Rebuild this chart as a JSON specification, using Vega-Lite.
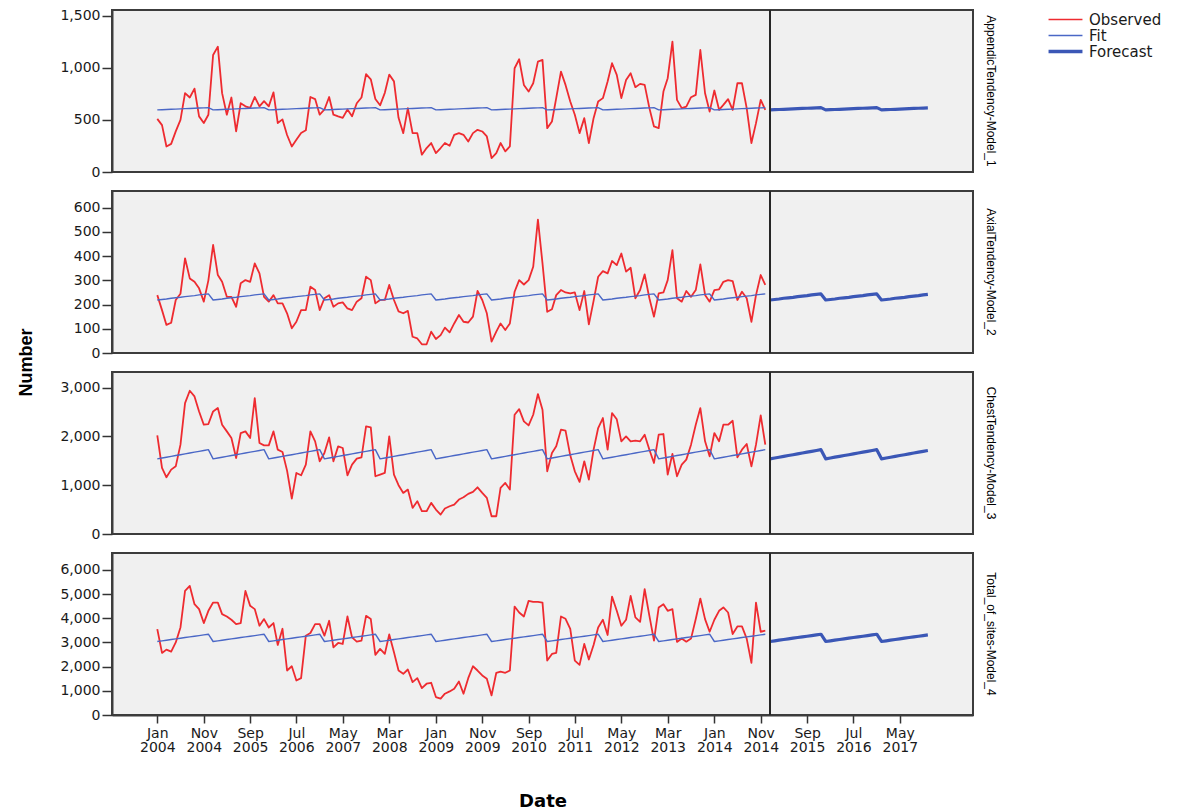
{
  "$schema": "https://vega.github.io/schema/vega-lite/v6.json",
  "background": "white",
  "padding": {"left": 16, "top": 7, "right": 2, "bottom": 0},
  "bounds": "flush",
  "config": {
    "view": {"fill": "#f0f0f0", "stroke": "#3c3c3c", "strokeWidth": 2},
    "concat": {"spacing": 19},
    "axis": {
      "labelFont": "DejaVu Sans", "labelFontSize": 14, "labelColor": "#1a1a1a",
      "tickColor": "#333333", "tickWidth": 1.5, "domainColor": "#3c3c3c", "domainWidth": 2,
      "grid": false, "titleColor": "#000000", "titleFont": "DejaVu Sans", "titleFontWeight": "bold"
    },
    "legend": {
      "labelFont": "DejaVu Sans", "labelFontSize": 15, "labelColor": "#1a1a1a",
      "symbolType": "stroke", "symbolSize": 1150, "rowPadding": -18, "labelOffset": 16, "padding": 0
    }
  },
  "resolve": {"scale": {"y": "independent", "color": "shared"}},
  "datasets": {
    "observed": [
      {"d":"2004-01","A":510,"X":239,"C":2021,"T":3554},{"d":"2004-02","A":450,"X":177,"C":1354,"T":2567},{"d":"2004-03","A":245,"X":116,"C":1162,"T":2703},{"d":"2004-04","A":270,"X":125,"C":1319,"T":2621},{"d":"2004-05","A":390,"X":219,"C":1387,"T":3000},{"d":"2004-06","A":500,"X":245,"C":1831,"T":3620},{"d":"2004-07","A":757,"X":391,"C":2683,"T":5131},{"d":"2004-08","A":715,"X":308,"C":2935,"T":5337},{"d":"2004-09","A":800,"X":294,"C":2819,"T":4584},{"d":"2004-10","A":534,"X":267,"C":2512,"T":4379},{"d":"2004-11","A":470,"X":212,"C":2240,"T":3802},{"d":"2004-12","A":550,"X":300,"C":2254,"T":4309},
      {"d":"2005-01","A":1123,"X":446,"C":2512,"T":4650},{"d":"2005-02","A":1203,"X":322,"C":2581,"T":4650},{"d":"2005-03","A":757,"X":294,"C":2240,"T":4173},{"d":"2005-04","A":550,"X":232,"C":2103,"T":4074},{"d":"2005-05","A":715,"X":232,"C":1967,"T":3938},{"d":"2005-06","A":390,"X":191,"C":1558,"T":3761},{"d":"2005-07","A":660,"X":288,"C":2069,"T":3802},{"d":"2005-08","A":630,"X":301,"C":2103,"T":5131},{"d":"2005-09","A":615,"X":294,"C":1967,"T":4514},{"d":"2005-10","A":720,"X":370,"C":2786,"T":4379},{"d":"2005-11","A":630,"X":329,"C":1865,"T":3691},{"d":"2005-12","A":680,"X":232,"C":1817,"T":3967},
      {"d":"2006-01","A":630,"X":212,"C":1817,"T":3620},{"d":"2006-02","A":765,"X":239,"C":2103,"T":3802},{"d":"2006-03","A":470,"X":205,"C":1728,"T":2897},{"d":"2006-04","A":505,"X":205,"C":1681,"T":3566},{"d":"2006-05","A":355,"X":164,"C":1299,"T":1840},{"d":"2006-06","A":245,"X":102,"C":726,"T":2016},{"d":"2006-07","A":310,"X":129,"C":1251,"T":1428},{"d":"2006-08","A":375,"X":177,"C":1203,"T":1523},{"d":"2006-09","A":400,"X":177,"C":1422,"T":3280},{"d":"2006-10","A":720,"X":274,"C":2103,"T":3391},{"d":"2006-11","A":700,"X":260,"C":1899,"T":3761},{"d":"2006-12","A":550,"X":177,"C":1490,"T":3761},
      {"d":"2007-01","A":600,"X":226,"C":1661,"T":3280},{"d":"2007-02","A":720,"X":239,"C":1980,"T":3897},{"d":"2007-03","A":550,"X":191,"C":1490,"T":2798},{"d":"2007-04","A":534,"X":205,"C":1796,"T":2979},{"d":"2007-05","A":520,"X":209,"C":1763,"T":2938},{"d":"2007-06","A":600,"X":184,"C":1203,"T":4074},{"d":"2007-07","A":534,"X":177,"C":1422,"T":3210},{"d":"2007-08","A":660,"X":212,"C":1544,"T":3033},{"d":"2007-09","A":715,"X":226,"C":1571,"T":3074},{"d":"2007-10","A":940,"X":315,"C":2205,"T":4103},{"d":"2007-11","A":890,"X":301,"C":2185,"T":3967},{"d":"2007-12","A":700,"X":205,"C":1183,"T":2486},
      {"d":"2008-01","A":640,"X":219,"C":1217,"T":2733},{"d":"2008-02","A":760,"X":219,"C":1251,"T":2527},{"d":"2008-03","A":935,"X":281,"C":2001,"T":3330},{"d":"2008-04","A":870,"X":219,"C":1217,"T":2593},{"d":"2008-05","A":520,"X":172,"C":1000,"T":1840},{"d":"2008-06","A":373,"X":164,"C":842,"T":1704},{"d":"2008-07","A":613,"X":174,"C":910,"T":1881},{"d":"2008-08","A":373,"X":67,"C":535,"T":1358},{"d":"2008-09","A":373,"X":60,"C":672,"T":1523},{"d":"2008-10","A":166,"X":36,"C":467,"T":1111},{"d":"2008-11","A":230,"X":36,"C":467,"T":1293},{"d":"2008-12","A":278,"X":88,"C":638,"T":1333},
      {"d":"2009-01","A":182,"X":58,"C":501,"T":741},{"d":"2009-02","A":230,"X":74,"C":399,"T":675},{"d":"2009-03","A":278,"X":105,"C":522,"T":881},{"d":"2009-04","A":252,"X":85,"C":569,"T":975},{"d":"2009-05","A":357,"X":122,"C":603,"T":1086},{"d":"2009-06","A":373,"X":157,"C":706,"T":1387},{"d":"2009-07","A":357,"X":129,"C":753,"T":881},{"d":"2009-08","A":293,"X":126,"C":822,"T":1523},{"d":"2009-09","A":373,"X":150,"C":863,"T":2016},{"d":"2009-10","A":405,"X":256,"C":957,"T":1840},{"d":"2009-11","A":389,"X":219,"C":842,"T":1634},{"d":"2009-12","A":341,"X":164,"C":740,"T":1498},
      {"d":"2010-01","A":134,"X":47,"C":364,"T":811},{"d":"2010-02","A":182,"X":88,"C":364,"T":1745},{"d":"2010-03","A":278,"X":122,"C":944,"T":1798},{"d":"2010-04","A":198,"X":95,"C":1046,"T":1745},{"d":"2010-05","A":245,"X":122,"C":910,"T":1840},{"d":"2010-06","A":996,"X":253,"C":2444,"T":4486},{"d":"2010-07","A":1082,"X":301,"C":2560,"T":4239},{"d":"2010-08","A":836,"X":283,"C":2307,"T":4074},{"d":"2010-09","A":772,"X":301,"C":2225,"T":4720},{"d":"2010-10","A":852,"X":356,"C":2444,"T":4677},{"d":"2010-11","A":1060,"X":551,"C":2868,"T":4677},{"d":"2010-12","A":1076,"X":370,"C":2546,"T":4650},
      {"d":"2011-01","A":421,"X":170,"C":1285,"T":2251},{"d":"2011-02","A":485,"X":181,"C":1661,"T":2527},{"d":"2011-03","A":709,"X":239,"C":1796,"T":2566},{"d":"2011-04","A":964,"X":260,"C":2137,"T":4074},{"d":"2011-05","A":836,"X":250,"C":2117,"T":3980},{"d":"2011-06","A":676,"X":246,"C":1612,"T":3566},{"d":"2011-07","A":549,"X":250,"C":1285,"T":2251},{"d":"2011-08","A":373,"X":177,"C":1067,"T":2074},{"d":"2011-09","A":517,"X":256,"C":1490,"T":2938},{"d":"2011-10","A":278,"X":118,"C":1115,"T":2292},{"d":"2011-11","A":517,"X":215,"C":1728,"T":2897},{"d":"2011-12","A":676,"X":315,"C":2172,"T":3620},
      {"d":"2012-01","A":709,"X":338,"C":2377,"T":3938},{"d":"2012-02","A":868,"X":329,"C":1728,"T":3310},{"d":"2012-03","A":1044,"X":380,"C":2479,"T":4897},{"d":"2012-04","A":932,"X":363,"C":2350,"T":4309},{"d":"2012-05","A":709,"X":411,"C":1899,"T":3691},{"d":"2012-06","A":884,"X":336,"C":2001,"T":3938},{"d":"2012-07","A":948,"X":352,"C":1899,"T":4925},{"d":"2012-08","A":814,"X":226,"C":1912,"T":4036},{"d":"2012-09","A":846,"X":260,"C":1899,"T":3852},{"d":"2012-10","A":836,"X":325,"C":2035,"T":5202},{"d":"2012-11","A":613,"X":226,"C":1728,"T":4103},{"d":"2012-12","A":437,"X":150,"C":1456,"T":3074},
      {"d":"2013-01","A":421,"X":246,"C":2035,"T":4447},{"d":"2013-02","A":772,"X":250,"C":2049,"T":4584},{"d":"2013-03","A":900,"X":301,"C":1217,"T":4309},{"d":"2013-04","A":1251,"X":425,"C":1640,"T":4379},{"d":"2013-05","A":692,"X":226,"C":1183,"T":3022},{"d":"2013-06","A":613,"X":212,"C":1422,"T":3160},{"d":"2013-07","A":628,"X":256,"C":1524,"T":3033},{"d":"2013-08","A":718,"X":232,"C":1831,"T":3160},{"d":"2013-09","A":740,"X":260,"C":2240,"T":3967},{"d":"2013-10","A":1171,"X":366,"C":2581,"T":4816},{"d":"2013-11","A":756,"X":240,"C":1899,"T":3967},{"d":"2013-12","A":580,"X":212,"C":1592,"T":3443},
      {"d":"2014-01","A":782,"X":260,"C":2069,"T":3938},{"d":"2014-02","A":597,"X":263,"C":1899,"T":4309},{"d":"2014-03","A":644,"X":294,"C":2240,"T":4447},{"d":"2014-04","A":699,"X":301,"C":2240,"T":4239},{"d":"2014-05","A":597,"X":297,"C":2321,"T":3350},{"d":"2014-06","A":852,"X":219,"C":1571,"T":3664},{"d":"2014-07","A":852,"X":253,"C":1728,"T":3664},{"d":"2014-08","A":613,"X":226,"C":1844,"T":3160},{"d":"2014-09","A":278,"X":129,"C":1387,"T":2156},{"d":"2014-10","A":469,"X":239,"C":1831,"T":4650},{"d":"2014-11","A":692,"X":322,"C":2430,"T":3443},{"d":"2014-12","A":597,"X":281,"C":1831,"T":3485}
    ],
    "fit": [
      {"d":"2004-01","A":596,"X":219,"C":1540,"T":3040},{"d":"2004-02","A":598,"X":221,"C":1557,"T":3067},{"d":"2004-03","A":600,"X":223,"C":1574,"T":3094},{"d":"2004-04","A":602,"X":226,"C":1591,"T":3122},{"d":"2004-05","A":604,"X":228,"C":1608,"T":3149},{"d":"2004-06","A":606,"X":230,"C":1625,"T":3176},{"d":"2004-07","A":608,"X":233,"C":1643,"T":3204},{"d":"2004-08","A":610,"X":235,"C":1660,"T":3231},{"d":"2004-09","A":612,"X":237,"C":1677,"T":3258},{"d":"2004-10","A":614,"X":240,"C":1694,"T":3285},{"d":"2004-11","A":616,"X":242,"C":1711,"T":3313},{"d":"2004-12","A":618,"X":244,"C":1728,"T":3340},
      {"d":"2005-01","A":596,"X":219,"C":1540,"T":3040},{"d":"2005-02","A":598,"X":221,"C":1557,"T":3067},{"d":"2005-03","A":600,"X":223,"C":1574,"T":3094},{"d":"2005-04","A":602,"X":226,"C":1591,"T":3122},{"d":"2005-05","A":604,"X":228,"C":1608,"T":3149},{"d":"2005-06","A":606,"X":230,"C":1625,"T":3176},{"d":"2005-07","A":608,"X":233,"C":1643,"T":3204},{"d":"2005-08","A":610,"X":235,"C":1660,"T":3231},{"d":"2005-09","A":612,"X":237,"C":1677,"T":3258},{"d":"2005-10","A":614,"X":240,"C":1694,"T":3285},{"d":"2005-11","A":616,"X":242,"C":1711,"T":3313},{"d":"2005-12","A":618,"X":244,"C":1728,"T":3340},
      {"d":"2006-01","A":596,"X":219,"C":1540,"T":3040},{"d":"2006-02","A":598,"X":221,"C":1557,"T":3067},{"d":"2006-03","A":600,"X":223,"C":1574,"T":3094},{"d":"2006-04","A":602,"X":226,"C":1591,"T":3122},{"d":"2006-05","A":604,"X":228,"C":1608,"T":3149},{"d":"2006-06","A":606,"X":230,"C":1625,"T":3176},{"d":"2006-07","A":608,"X":233,"C":1643,"T":3204},{"d":"2006-08","A":610,"X":235,"C":1660,"T":3231},{"d":"2006-09","A":612,"X":237,"C":1677,"T":3258},{"d":"2006-10","A":614,"X":240,"C":1694,"T":3285},{"d":"2006-11","A":616,"X":242,"C":1711,"T":3313},{"d":"2006-12","A":618,"X":244,"C":1728,"T":3340},
      {"d":"2007-01","A":596,"X":219,"C":1540,"T":3040},{"d":"2007-02","A":598,"X":221,"C":1557,"T":3067},{"d":"2007-03","A":600,"X":223,"C":1574,"T":3094},{"d":"2007-04","A":602,"X":226,"C":1591,"T":3122},{"d":"2007-05","A":604,"X":228,"C":1608,"T":3149},{"d":"2007-06","A":606,"X":230,"C":1625,"T":3176},{"d":"2007-07","A":608,"X":233,"C":1643,"T":3204},{"d":"2007-08","A":610,"X":235,"C":1660,"T":3231},{"d":"2007-09","A":612,"X":237,"C":1677,"T":3258},{"d":"2007-10","A":614,"X":240,"C":1694,"T":3285},{"d":"2007-11","A":616,"X":242,"C":1711,"T":3313},{"d":"2007-12","A":618,"X":244,"C":1728,"T":3340},
      {"d":"2008-01","A":596,"X":219,"C":1540,"T":3040},{"d":"2008-02","A":598,"X":221,"C":1557,"T":3067},{"d":"2008-03","A":600,"X":223,"C":1574,"T":3094},{"d":"2008-04","A":602,"X":226,"C":1591,"T":3122},{"d":"2008-05","A":604,"X":228,"C":1608,"T":3149},{"d":"2008-06","A":606,"X":230,"C":1625,"T":3176},{"d":"2008-07","A":608,"X":233,"C":1643,"T":3204},{"d":"2008-08","A":610,"X":235,"C":1660,"T":3231},{"d":"2008-09","A":612,"X":237,"C":1677,"T":3258},{"d":"2008-10","A":614,"X":240,"C":1694,"T":3285},{"d":"2008-11","A":616,"X":242,"C":1711,"T":3313},{"d":"2008-12","A":618,"X":244,"C":1728,"T":3340},
      {"d":"2009-01","A":596,"X":219,"C":1540,"T":3040},{"d":"2009-02","A":598,"X":221,"C":1557,"T":3067},{"d":"2009-03","A":600,"X":223,"C":1574,"T":3094},{"d":"2009-04","A":602,"X":226,"C":1591,"T":3122},{"d":"2009-05","A":604,"X":228,"C":1608,"T":3149},{"d":"2009-06","A":606,"X":230,"C":1625,"T":3176},{"d":"2009-07","A":608,"X":233,"C":1643,"T":3204},{"d":"2009-08","A":610,"X":235,"C":1660,"T":3231},{"d":"2009-09","A":612,"X":237,"C":1677,"T":3258},{"d":"2009-10","A":614,"X":240,"C":1694,"T":3285},{"d":"2009-11","A":616,"X":242,"C":1711,"T":3313},{"d":"2009-12","A":618,"X":244,"C":1728,"T":3340},
      {"d":"2010-01","A":596,"X":219,"C":1540,"T":3040},{"d":"2010-02","A":598,"X":221,"C":1557,"T":3067},{"d":"2010-03","A":600,"X":223,"C":1574,"T":3094},{"d":"2010-04","A":602,"X":226,"C":1591,"T":3122},{"d":"2010-05","A":604,"X":228,"C":1608,"T":3149},{"d":"2010-06","A":606,"X":230,"C":1625,"T":3176},{"d":"2010-07","A":608,"X":233,"C":1643,"T":3204},{"d":"2010-08","A":610,"X":235,"C":1660,"T":3231},{"d":"2010-09","A":612,"X":237,"C":1677,"T":3258},{"d":"2010-10","A":614,"X":240,"C":1694,"T":3285},{"d":"2010-11","A":616,"X":242,"C":1711,"T":3313},{"d":"2010-12","A":618,"X":244,"C":1728,"T":3340},
      {"d":"2011-01","A":596,"X":219,"C":1540,"T":3040},{"d":"2011-02","A":598,"X":221,"C":1557,"T":3067},{"d":"2011-03","A":600,"X":223,"C":1574,"T":3094},{"d":"2011-04","A":602,"X":226,"C":1591,"T":3122},{"d":"2011-05","A":604,"X":228,"C":1608,"T":3149},{"d":"2011-06","A":606,"X":230,"C":1625,"T":3176},{"d":"2011-07","A":608,"X":233,"C":1643,"T":3204},{"d":"2011-08","A":610,"X":235,"C":1660,"T":3231},{"d":"2011-09","A":612,"X":237,"C":1677,"T":3258},{"d":"2011-10","A":614,"X":240,"C":1694,"T":3285},{"d":"2011-11","A":616,"X":242,"C":1711,"T":3313},{"d":"2011-12","A":618,"X":244,"C":1728,"T":3340},
      {"d":"2012-01","A":596,"X":219,"C":1540,"T":3040},{"d":"2012-02","A":598,"X":221,"C":1557,"T":3067},{"d":"2012-03","A":600,"X":223,"C":1574,"T":3094},{"d":"2012-04","A":602,"X":226,"C":1591,"T":3122},{"d":"2012-05","A":604,"X":228,"C":1608,"T":3149},{"d":"2012-06","A":606,"X":230,"C":1625,"T":3176},{"d":"2012-07","A":608,"X":233,"C":1643,"T":3204},{"d":"2012-08","A":610,"X":235,"C":1660,"T":3231},{"d":"2012-09","A":612,"X":237,"C":1677,"T":3258},{"d":"2012-10","A":614,"X":240,"C":1694,"T":3285},{"d":"2012-11","A":616,"X":242,"C":1711,"T":3313},{"d":"2012-12","A":618,"X":244,"C":1728,"T":3340},
      {"d":"2013-01","A":596,"X":219,"C":1540,"T":3040},{"d":"2013-02","A":598,"X":221,"C":1557,"T":3067},{"d":"2013-03","A":600,"X":223,"C":1574,"T":3094},{"d":"2013-04","A":602,"X":226,"C":1591,"T":3122},{"d":"2013-05","A":604,"X":228,"C":1608,"T":3149},{"d":"2013-06","A":606,"X":230,"C":1625,"T":3176},{"d":"2013-07","A":608,"X":233,"C":1643,"T":3204},{"d":"2013-08","A":610,"X":235,"C":1660,"T":3231},{"d":"2013-09","A":612,"X":237,"C":1677,"T":3258},{"d":"2013-10","A":614,"X":240,"C":1694,"T":3285},{"d":"2013-11","A":616,"X":242,"C":1711,"T":3313},{"d":"2013-12","A":618,"X":244,"C":1728,"T":3340},
      {"d":"2014-01","A":596,"X":219,"C":1540,"T":3040},{"d":"2014-02","A":598,"X":221,"C":1557,"T":3067},{"d":"2014-03","A":600,"X":223,"C":1574,"T":3094},{"d":"2014-04","A":602,"X":226,"C":1591,"T":3122},{"d":"2014-05","A":604,"X":228,"C":1608,"T":3149},{"d":"2014-06","A":606,"X":230,"C":1625,"T":3176},{"d":"2014-07","A":608,"X":233,"C":1643,"T":3204},{"d":"2014-08","A":610,"X":235,"C":1660,"T":3231},{"d":"2014-09","A":612,"X":237,"C":1677,"T":3258},{"d":"2014-10","A":614,"X":240,"C":1694,"T":3285},{"d":"2014-11","A":616,"X":242,"C":1711,"T":3313},{"d":"2014-12","A":618,"X":244,"C":1728,"T":3340}
    ],
    "forecast": [
      {"d":"2015-01","A":596,"X":219,"C":1540,"T":3040},{"d":"2015-02","A":598,"X":221,"C":1557,"T":3067},{"d":"2015-03","A":600,"X":223,"C":1574,"T":3094},{"d":"2015-04","A":602,"X":226,"C":1591,"T":3122},{"d":"2015-05","A":604,"X":228,"C":1608,"T":3149},{"d":"2015-06","A":606,"X":230,"C":1625,"T":3176},{"d":"2015-07","A":608,"X":233,"C":1643,"T":3204},{"d":"2015-08","A":610,"X":235,"C":1660,"T":3231},{"d":"2015-09","A":612,"X":237,"C":1677,"T":3258},{"d":"2015-10","A":614,"X":240,"C":1694,"T":3285},{"d":"2015-11","A":616,"X":242,"C":1711,"T":3313},{"d":"2015-12","A":618,"X":244,"C":1728,"T":3340},
      {"d":"2016-01","A":596,"X":219,"C":1540,"T":3040},{"d":"2016-02","A":598,"X":221,"C":1557,"T":3067},{"d":"2016-03","A":600,"X":223,"C":1574,"T":3094},{"d":"2016-04","A":602,"X":226,"C":1591,"T":3122},{"d":"2016-05","A":604,"X":228,"C":1608,"T":3149},{"d":"2016-06","A":606,"X":230,"C":1625,"T":3176},{"d":"2016-07","A":608,"X":233,"C":1643,"T":3204},{"d":"2016-08","A":610,"X":235,"C":1660,"T":3231},{"d":"2016-09","A":612,"X":237,"C":1677,"T":3258},{"d":"2016-10","A":614,"X":240,"C":1694,"T":3285},{"d":"2016-11","A":616,"X":242,"C":1711,"T":3313},{"d":"2016-12","A":618,"X":244,"C":1728,"T":3340},
      {"d":"2017-01","A":596,"X":219,"C":1540,"T":3040},{"d":"2017-02","A":598,"X":221,"C":1557,"T":3067},{"d":"2017-03","A":600,"X":223,"C":1574,"T":3094},{"d":"2017-04","A":602,"X":226,"C":1591,"T":3122},{"d":"2017-05","A":604,"X":228,"C":1608,"T":3149},{"d":"2017-06","A":606,"X":230,"C":1625,"T":3176},{"d":"2017-07","A":608,"X":233,"C":1643,"T":3204},{"d":"2017-08","A":610,"X":235,"C":1660,"T":3231},{"d":"2017-09","A":612,"X":237,"C":1677,"T":3258},{"d":"2017-10","A":614,"X":240,"C":1694,"T":3285},{"d":"2017-11","A":616,"X":242,"C":1711,"T":3313}
    ],
    "split": [{"d":"2015-01"}]
  },
  "vconcat": [
    {
      "width": 861, "height": 162,
      "title": {"text": "AppendicTendency-Model_1", "orient": "right", "anchor": "middle", "frame": "group", "angle": 90, "baseline": "bottom", "offset": -1, "font": "Liberation Sans", "fontSize": 12, "fontWeight": "normal", "color": "#000000"},
      "layer": [
        {"data": {"name": "observed"}, "mark": {"type": "line", "strokeJoin": "round", "strokeWidth": 1.8},
         "encoding": {
           "x": {"field": "d", "type": "temporal", "scale": {"type": "utc", "domain": [{"year": 2003, "month": 3, "date": 10, "utc": true}, {"year": 2018, "month": 8, "date": 24, "utc": true}]}, "axis": null},
           "y": {"field": "A", "type": "quantitative", "scale": {"domain": [0, 1555], "nice": false}, "axis": {"values": [0, 500, 1000, 1500], "format": ",d", "tickSize": 10, "labelPadding": 2, "title": null}},
           "color": {"datum": "Observed", "type": "nominal", "scale": {"domain": ["Observed", "Fit", "Forecast"], "range": ["#ee2b30", "#4a67c6", "#3b57b6"]}, "legend": {"orient": "none", "legendX": 946, "legendY": 2, "title": null, "encode": {"symbols": {"update": {"strokeWidth": {"signal": "datum.value === 'Forecast' ? 3.5 : 1.6"}}}}}}
         }},
        {"data": {"name": "fit"}, "mark": {"type": "line", "strokeJoin": "round", "strokeWidth": 1.4},
         "encoding": {
           "x": {"field": "d", "type": "temporal", "scale": {"type": "utc", "domain": [{"year": 2003, "month": 3, "date": 10, "utc": true}, {"year": 2018, "month": 8, "date": 24, "utc": true}]}, "axis": null},
           "y": {"field": "A", "type": "quantitative", "scale": {"domain": [0, 1555], "nice": false}, "axis": {"values": [0, 500, 1000, 1500], "format": ",d", "tickSize": 10, "labelPadding": 2, "title": null}},
           "color": {"datum": "Fit", "type": "nominal", "scale": {"domain": ["Observed", "Fit", "Forecast"], "range": ["#ee2b30", "#4a67c6", "#3b57b6"]}, "legend": {"orient": "none", "legendX": 946, "legendY": 2, "title": null, "encode": {"symbols": {"update": {"strokeWidth": {"signal": "datum.value === 'Forecast' ? 3.5 : 1.6"}}}}}}
         }},
        {"data": {"name": "forecast"}, "mark": {"type": "line", "strokeJoin": "round", "strokeWidth": 3.2},
         "encoding": {
           "x": {"field": "d", "type": "temporal", "scale": {"type": "utc", "domain": [{"year": 2003, "month": 3, "date": 10, "utc": true}, {"year": 2018, "month": 8, "date": 24, "utc": true}]}, "axis": null},
           "y": {"field": "A", "type": "quantitative", "scale": {"domain": [0, 1555], "nice": false}, "axis": {"values": [0, 500, 1000, 1500], "format": ",d", "tickSize": 10, "labelPadding": 2, "title": null}},
           "color": {"datum": "Forecast", "type": "nominal", "scale": {"domain": ["Observed", "Fit", "Forecast"], "range": ["#ee2b30", "#4a67c6", "#3b57b6"]}, "legend": {"orient": "none", "legendX": 946, "legendY": 2, "title": null, "encode": {"symbols": {"update": {"strokeWidth": {"signal": "datum.value === 'Forecast' ? 3.5 : 1.6"}}}}}}
         }},
        {"data": {"name": "split"}, "mark": {"type": "rule", "color": "#262626", "strokeWidth": 2},
         "encoding": {
           "x": {"field": "d", "type": "temporal", "scale": {"type": "utc", "domain": [{"year": 2003, "month": 3, "date": 10, "utc": true}, {"year": 2018, "month": 8, "date": 24, "utc": true}]}, "axis": null}
         }}
      ]
    },
    {
      "width": 861, "height": 162,
      "title": {"text": "AxialTendency-Model_2", "orient": "right", "anchor": "middle", "frame": "group", "angle": 90, "baseline": "bottom", "offset": -1, "font": "Liberation Sans", "fontSize": 12, "fontWeight": "normal", "color": "#000000"},
      "layer": [
        {"data": {"name": "observed"}, "mark": {"type": "line", "strokeJoin": "round", "strokeWidth": 1.8},
         "encoding": {
           "x": {"field": "d", "type": "temporal", "scale": {"type": "utc", "domain": [{"year": 2003, "month": 3, "date": 10, "utc": true}, {"year": 2018, "month": 8, "date": 24, "utc": true}]}, "axis": null},
           "y": {"field": "X", "type": "quantitative", "scale": {"domain": [0, 669], "nice": false}, "axis": {"values": [0, 100, 200, 300, 400, 500, 600], "format": ",d", "tickSize": 10, "labelPadding": 2, "title": "Number", "titleFont": "Liberation Sans", "titleFontSize": 18, "titleFontWeight": "bold", "titleAngle": -90, "titleAlign": "center", "titleBaseline": "alphabetic", "titleX": -81, "titleY": 171}},
           "color": {"datum": "Observed", "type": "nominal", "scale": {"domain": ["Observed", "Fit", "Forecast"], "range": ["#ee2b30", "#4a67c6", "#3b57b6"]}, "legend": {"orient": "none", "legendX": 946, "legendY": 2, "title": null, "encode": {"symbols": {"update": {"strokeWidth": {"signal": "datum.value === 'Forecast' ? 3.5 : 1.6"}}}}}}
         }},
        {"data": {"name": "fit"}, "mark": {"type": "line", "strokeJoin": "round", "strokeWidth": 1.4},
         "encoding": {
           "x": {"field": "d", "type": "temporal", "scale": {"type": "utc", "domain": [{"year": 2003, "month": 3, "date": 10, "utc": true}, {"year": 2018, "month": 8, "date": 24, "utc": true}]}, "axis": null},
           "y": {"field": "X", "type": "quantitative", "scale": {"domain": [0, 669], "nice": false}, "axis": {"values": [0, 100, 200, 300, 400, 500, 600], "format": ",d", "tickSize": 10, "labelPadding": 2, "title": "Number", "titleFont": "Liberation Sans", "titleFontSize": 18, "titleFontWeight": "bold", "titleAngle": -90, "titleAlign": "center", "titleBaseline": "alphabetic", "titleX": -81, "titleY": 171}},
           "color": {"datum": "Fit", "type": "nominal", "scale": {"domain": ["Observed", "Fit", "Forecast"], "range": ["#ee2b30", "#4a67c6", "#3b57b6"]}, "legend": {"orient": "none", "legendX": 946, "legendY": 2, "title": null, "encode": {"symbols": {"update": {"strokeWidth": {"signal": "datum.value === 'Forecast' ? 3.5 : 1.6"}}}}}}
         }},
        {"data": {"name": "forecast"}, "mark": {"type": "line", "strokeJoin": "round", "strokeWidth": 3.2},
         "encoding": {
           "x": {"field": "d", "type": "temporal", "scale": {"type": "utc", "domain": [{"year": 2003, "month": 3, "date": 10, "utc": true}, {"year": 2018, "month": 8, "date": 24, "utc": true}]}, "axis": null},
           "y": {"field": "X", "type": "quantitative", "scale": {"domain": [0, 669], "nice": false}, "axis": {"values": [0, 100, 200, 300, 400, 500, 600], "format": ",d", "tickSize": 10, "labelPadding": 2, "title": "Number", "titleFont": "Liberation Sans", "titleFontSize": 18, "titleFontWeight": "bold", "titleAngle": -90, "titleAlign": "center", "titleBaseline": "alphabetic", "titleX": -81, "titleY": 171}},
           "color": {"datum": "Forecast", "type": "nominal", "scale": {"domain": ["Observed", "Fit", "Forecast"], "range": ["#ee2b30", "#4a67c6", "#3b57b6"]}, "legend": {"orient": "none", "legendX": 946, "legendY": 2, "title": null, "encode": {"symbols": {"update": {"strokeWidth": {"signal": "datum.value === 'Forecast' ? 3.5 : 1.6"}}}}}}
         }},
        {"data": {"name": "split"}, "mark": {"type": "rule", "color": "#262626", "strokeWidth": 2},
         "encoding": {
           "x": {"field": "d", "type": "temporal", "scale": {"type": "utc", "domain": [{"year": 2003, "month": 3, "date": 10, "utc": true}, {"year": 2018, "month": 8, "date": 24, "utc": true}]}, "axis": null}
         }}
      ]
    },
    {
      "width": 861, "height": 162,
      "title": {"text": "ChestTendency-Model_3", "orient": "right", "anchor": "middle", "frame": "group", "angle": 90, "baseline": "bottom", "offset": -1, "font": "Liberation Sans", "fontSize": 12, "fontWeight": "normal", "color": "#000000"},
      "layer": [
        {"data": {"name": "observed"}, "mark": {"type": "line", "strokeJoin": "round", "strokeWidth": 1.8},
         "encoding": {
           "x": {"field": "d", "type": "temporal", "scale": {"type": "utc", "domain": [{"year": 2003, "month": 3, "date": 10, "utc": true}, {"year": 2018, "month": 8, "date": 24, "utc": true}]}, "axis": null},
           "y": {"field": "C", "type": "quantitative", "scale": {"domain": [0, 3320], "nice": false}, "axis": {"values": [0, 1000, 2000, 3000], "format": ",d", "tickSize": 10, "labelPadding": 2, "title": null}},
           "color": {"datum": "Observed", "type": "nominal", "scale": {"domain": ["Observed", "Fit", "Forecast"], "range": ["#ee2b30", "#4a67c6", "#3b57b6"]}, "legend": {"orient": "none", "legendX": 946, "legendY": 2, "title": null, "encode": {"symbols": {"update": {"strokeWidth": {"signal": "datum.value === 'Forecast' ? 3.5 : 1.6"}}}}}}
         }},
        {"data": {"name": "fit"}, "mark": {"type": "line", "strokeJoin": "round", "strokeWidth": 1.4},
         "encoding": {
           "x": {"field": "d", "type": "temporal", "scale": {"type": "utc", "domain": [{"year": 2003, "month": 3, "date": 10, "utc": true}, {"year": 2018, "month": 8, "date": 24, "utc": true}]}, "axis": null},
           "y": {"field": "C", "type": "quantitative", "scale": {"domain": [0, 3320], "nice": false}, "axis": {"values": [0, 1000, 2000, 3000], "format": ",d", "tickSize": 10, "labelPadding": 2, "title": null}},
           "color": {"datum": "Fit", "type": "nominal", "scale": {"domain": ["Observed", "Fit", "Forecast"], "range": ["#ee2b30", "#4a67c6", "#3b57b6"]}, "legend": {"orient": "none", "legendX": 946, "legendY": 2, "title": null, "encode": {"symbols": {"update": {"strokeWidth": {"signal": "datum.value === 'Forecast' ? 3.5 : 1.6"}}}}}}
         }},
        {"data": {"name": "forecast"}, "mark": {"type": "line", "strokeJoin": "round", "strokeWidth": 3.2},
         "encoding": {
           "x": {"field": "d", "type": "temporal", "scale": {"type": "utc", "domain": [{"year": 2003, "month": 3, "date": 10, "utc": true}, {"year": 2018, "month": 8, "date": 24, "utc": true}]}, "axis": null},
           "y": {"field": "C", "type": "quantitative", "scale": {"domain": [0, 3320], "nice": false}, "axis": {"values": [0, 1000, 2000, 3000], "format": ",d", "tickSize": 10, "labelPadding": 2, "title": null}},
           "color": {"datum": "Forecast", "type": "nominal", "scale": {"domain": ["Observed", "Fit", "Forecast"], "range": ["#ee2b30", "#4a67c6", "#3b57b6"]}, "legend": {"orient": "none", "legendX": 946, "legendY": 2, "title": null, "encode": {"symbols": {"update": {"strokeWidth": {"signal": "datum.value === 'Forecast' ? 3.5 : 1.6"}}}}}}
         }},
        {"data": {"name": "split"}, "mark": {"type": "rule", "color": "#262626", "strokeWidth": 2},
         "encoding": {
           "x": {"field": "d", "type": "temporal", "scale": {"type": "utc", "domain": [{"year": 2003, "month": 3, "date": 10, "utc": true}, {"year": 2018, "month": 8, "date": 24, "utc": true}]}, "axis": null}
         }}
      ]
    },
    {
      "width": 861, "height": 162,
      "title": {"text": "Total_of_sites-Model_4", "orient": "right", "anchor": "middle", "frame": "group", "angle": 90, "baseline": "bottom", "offset": -1, "font": "Liberation Sans", "fontSize": 12, "fontWeight": "normal", "color": "#000000"},
      "layer": [
        {"data": {"name": "observed"}, "mark": {"type": "line", "strokeJoin": "round", "strokeWidth": 1.8},
         "encoding": {
           "x": {"field": "d", "type": "temporal", "scale": {"type": "utc", "domain": [{"year": 2003, "month": 3, "date": 10, "utc": true}, {"year": 2018, "month": 8, "date": 24, "utc": true}]}, "axis": {"values": [{"year": 2004, "month": 1, "date": 1, "utc": true}, {"year": 2004, "month": 11, "date": 1, "utc": true}, {"year": 2005, "month": 9, "date": 1, "utc": true}, {"year": 2006, "month": 7, "date": 1, "utc": true}, {"year": 2007, "month": 5, "date": 1, "utc": true}, {"year": 2008, "month": 3, "date": 1, "utc": true}, {"year": 2009, "month": 1, "date": 1, "utc": true}, {"year": 2009, "month": 11, "date": 1, "utc": true}, {"year": 2010, "month": 9, "date": 1, "utc": true}, {"year": 2011, "month": 7, "date": 1, "utc": true}, {"year": 2012, "month": 5, "date": 1, "utc": true}, {"year": 2013, "month": 3, "date": 1, "utc": true}, {"year": 2014, "month": 1, "date": 1, "utc": true}, {"year": 2014, "month": 11, "date": 1, "utc": true}, {"year": 2015, "month": 9, "date": 1, "utc": true}, {"year": 2016, "month": 7, "date": 1, "utc": true}, {"year": 2017, "month": 5, "date": 1, "utc": true}], "labelExpr": "[utcFormat(datum.value, '%b'), utcFormat(datum.value, '%Y')]", "tickSize": 8, "labelPadding": 3, "labelLineHeight": 14.5, "labelAlign": "center", "labelBaseline": "top", "labelFlush": false, "labelOverlap": false, "title": "Date", "titleFontSize": 18, "titlePadding": 38}},
           "y": {"field": "T", "type": "quantitative", "scale": {"domain": [0, 6700], "nice": false}, "axis": {"values": [0, 1000, 2000, 3000, 4000, 5000, 6000], "format": ",d", "tickSize": 10, "labelPadding": 2, "title": null}},
           "color": {"datum": "Observed", "type": "nominal", "scale": {"domain": ["Observed", "Fit", "Forecast"], "range": ["#ee2b30", "#4a67c6", "#3b57b6"]}, "legend": {"orient": "none", "legendX": 946, "legendY": 2, "title": null, "encode": {"symbols": {"update": {"strokeWidth": {"signal": "datum.value === 'Forecast' ? 3.5 : 1.6"}}}}}}
         }},
        {"data": {"name": "fit"}, "mark": {"type": "line", "strokeJoin": "round", "strokeWidth": 1.4},
         "encoding": {
           "x": {"field": "d", "type": "temporal", "scale": {"type": "utc", "domain": [{"year": 2003, "month": 3, "date": 10, "utc": true}, {"year": 2018, "month": 8, "date": 24, "utc": true}]}, "axis": {"values": [{"year": 2004, "month": 1, "date": 1, "utc": true}, {"year": 2004, "month": 11, "date": 1, "utc": true}, {"year": 2005, "month": 9, "date": 1, "utc": true}, {"year": 2006, "month": 7, "date": 1, "utc": true}, {"year": 2007, "month": 5, "date": 1, "utc": true}, {"year": 2008, "month": 3, "date": 1, "utc": true}, {"year": 2009, "month": 1, "date": 1, "utc": true}, {"year": 2009, "month": 11, "date": 1, "utc": true}, {"year": 2010, "month": 9, "date": 1, "utc": true}, {"year": 2011, "month": 7, "date": 1, "utc": true}, {"year": 2012, "month": 5, "date": 1, "utc": true}, {"year": 2013, "month": 3, "date": 1, "utc": true}, {"year": 2014, "month": 1, "date": 1, "utc": true}, {"year": 2014, "month": 11, "date": 1, "utc": true}, {"year": 2015, "month": 9, "date": 1, "utc": true}, {"year": 2016, "month": 7, "date": 1, "utc": true}, {"year": 2017, "month": 5, "date": 1, "utc": true}], "labelExpr": "[utcFormat(datum.value, '%b'), utcFormat(datum.value, '%Y')]", "tickSize": 8, "labelPadding": 3, "labelLineHeight": 14.5, "labelAlign": "center", "labelBaseline": "top", "labelFlush": false, "labelOverlap": false, "title": "Date", "titleFontSize": 18, "titlePadding": 38}},
           "y": {"field": "T", "type": "quantitative", "scale": {"domain": [0, 6700], "nice": false}, "axis": {"values": [0, 1000, 2000, 3000, 4000, 5000, 6000], "format": ",d", "tickSize": 10, "labelPadding": 2, "title": null}},
           "color": {"datum": "Fit", "type": "nominal", "scale": {"domain": ["Observed", "Fit", "Forecast"], "range": ["#ee2b30", "#4a67c6", "#3b57b6"]}, "legend": {"orient": "none", "legendX": 946, "legendY": 2, "title": null, "encode": {"symbols": {"update": {"strokeWidth": {"signal": "datum.value === 'Forecast' ? 3.5 : 1.6"}}}}}}
         }},
        {"data": {"name": "forecast"}, "mark": {"type": "line", "strokeJoin": "round", "strokeWidth": 3.2},
         "encoding": {
           "x": {"field": "d", "type": "temporal", "scale": {"type": "utc", "domain": [{"year": 2003, "month": 3, "date": 10, "utc": true}, {"year": 2018, "month": 8, "date": 24, "utc": true}]}, "axis": {"values": [{"year": 2004, "month": 1, "date": 1, "utc": true}, {"year": 2004, "month": 11, "date": 1, "utc": true}, {"year": 2005, "month": 9, "date": 1, "utc": true}, {"year": 2006, "month": 7, "date": 1, "utc": true}, {"year": 2007, "month": 5, "date": 1, "utc": true}, {"year": 2008, "month": 3, "date": 1, "utc": true}, {"year": 2009, "month": 1, "date": 1, "utc": true}, {"year": 2009, "month": 11, "date": 1, "utc": true}, {"year": 2010, "month": 9, "date": 1, "utc": true}, {"year": 2011, "month": 7, "date": 1, "utc": true}, {"year": 2012, "month": 5, "date": 1, "utc": true}, {"year": 2013, "month": 3, "date": 1, "utc": true}, {"year": 2014, "month": 1, "date": 1, "utc": true}, {"year": 2014, "month": 11, "date": 1, "utc": true}, {"year": 2015, "month": 9, "date": 1, "utc": true}, {"year": 2016, "month": 7, "date": 1, "utc": true}, {"year": 2017, "month": 5, "date": 1, "utc": true}], "labelExpr": "[utcFormat(datum.value, '%b'), utcFormat(datum.value, '%Y')]", "tickSize": 8, "labelPadding": 3, "labelLineHeight": 14.5, "labelAlign": "center", "labelBaseline": "top", "labelFlush": false, "labelOverlap": false, "title": "Date", "titleFontSize": 18, "titlePadding": 38}},
           "y": {"field": "T", "type": "quantitative", "scale": {"domain": [0, 6700], "nice": false}, "axis": {"values": [0, 1000, 2000, 3000, 4000, 5000, 6000], "format": ",d", "tickSize": 10, "labelPadding": 2, "title": null}},
           "color": {"datum": "Forecast", "type": "nominal", "scale": {"domain": ["Observed", "Fit", "Forecast"], "range": ["#ee2b30", "#4a67c6", "#3b57b6"]}, "legend": {"orient": "none", "legendX": 946, "legendY": 2, "title": null, "encode": {"symbols": {"update": {"strokeWidth": {"signal": "datum.value === 'Forecast' ? 3.5 : 1.6"}}}}}}
         }},
        {"data": {"name": "split"}, "mark": {"type": "rule", "color": "#262626", "strokeWidth": 2},
         "encoding": {
           "x": {"field": "d", "type": "temporal", "scale": {"type": "utc", "domain": [{"year": 2003, "month": 3, "date": 10, "utc": true}, {"year": 2018, "month": 8, "date": 24, "utc": true}]}, "axis": {"values": [{"year": 2004, "month": 1, "date": 1, "utc": true}, {"year": 2004, "month": 11, "date": 1, "utc": true}, {"year": 2005, "month": 9, "date": 1, "utc": true}, {"year": 2006, "month": 7, "date": 1, "utc": true}, {"year": 2007, "month": 5, "date": 1, "utc": true}, {"year": 2008, "month": 3, "date": 1, "utc": true}, {"year": 2009, "month": 1, "date": 1, "utc": true}, {"year": 2009, "month": 11, "date": 1, "utc": true}, {"year": 2010, "month": 9, "date": 1, "utc": true}, {"year": 2011, "month": 7, "date": 1, "utc": true}, {"year": 2012, "month": 5, "date": 1, "utc": true}, {"year": 2013, "month": 3, "date": 1, "utc": true}, {"year": 2014, "month": 1, "date": 1, "utc": true}, {"year": 2014, "month": 11, "date": 1, "utc": true}, {"year": 2015, "month": 9, "date": 1, "utc": true}, {"year": 2016, "month": 7, "date": 1, "utc": true}, {"year": 2017, "month": 5, "date": 1, "utc": true}], "labelExpr": "[utcFormat(datum.value, '%b'), utcFormat(datum.value, '%Y')]", "tickSize": 8, "labelPadding": 3, "labelLineHeight": 14.5, "labelAlign": "center", "labelBaseline": "top", "labelFlush": false, "labelOverlap": false, "title": "Date", "titleFontSize": 18, "titlePadding": 38}}
         }}
      ]
    }
  ]
}
